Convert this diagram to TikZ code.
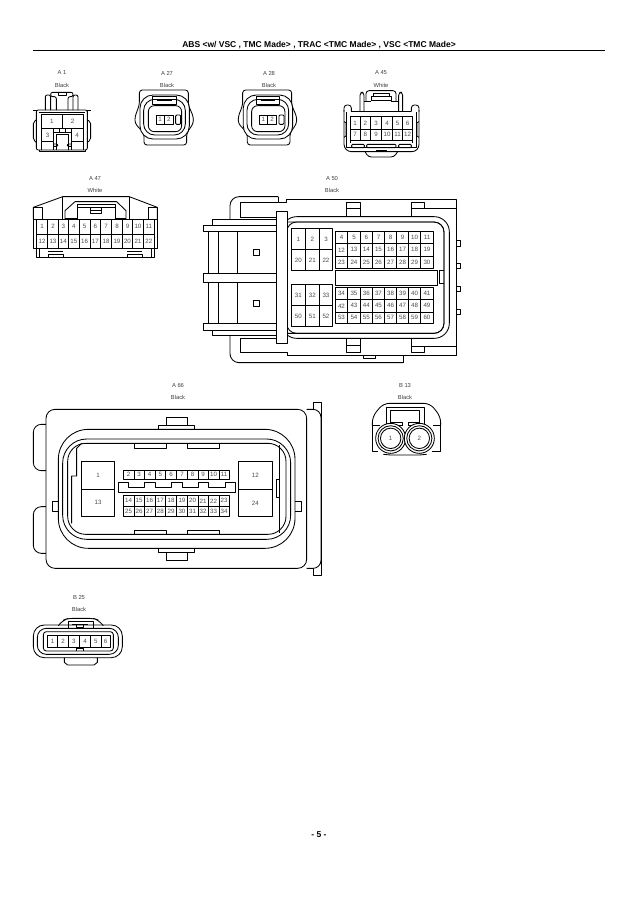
\documentclass[tikz,border=0pt]{standalone}
\usepackage{fontspec}
\setmainfont{Liberation Sans}
\tikzset{
  ln/.style={draw=black,line width=0.85pt,line join=round},
  pinlabel/.style={inner sep=0pt,text=black!70,font=\fontsize{6.2}{7}\selectfont},
  caption/.style={inner sep=0pt,text=black!75,font=\fontsize{5.8}{7}\selectfont},
  zoomed/.style={x=0.33333pt,y=-0.33333pt},
}
\newcommand\cellat[5]{%
  \draw[ln] (#1,#2) rectangle (#3,#4);
  \node[pinlabel] (\conn-#5) at ({(#1+#3)/2},{(#2+#4)/2}) {#5};}
\newcommand\pinrow[4]{%
  \foreach \x [remember=\x as \lx (initially 0), count=\i from 0] in {#4} {%
    \ifnum\i>0 \pgfmathtruncatemacro\lab{#3+\i-1}\cellat{\lx}{#1}{\x}{#2}{\lab}\fi}}
\newcommand\capt[4]{%
  \node[caption] (#1-a) at (#2pt,-#3pt) {#1};
  \node[caption] (#1-b) at (#2pt,-#3pt-12pt) {#4};}
\newcommand\twopin{%
  \draw[ln,rounded corners=3pt] (358,165)--(505,165)--(505,210)--(520,245)--(520,265)--(500,295)--(500,330)--(372,330)--(372,295)--(345,265)--(345,245)--(358,210)--cycle;
  \draw[ln,fill=white,rounded corners=13pt] (360,180) rectangle (508,312);
  \draw[ln,rounded corners=11pt] (371,193) rectangle (496,300);
  \draw[ln,rounded corners=6pt] (385,212) rectangle (485,290);
  \draw[ln,fill=white] (398,208)--(398,183)--(468,183)--(468,208)--cycle;
  \draw[ln] (398,192)--(468,192);
  \draw[ln] (412,197)--(455,197);
  \draw[ln,rounded corners=1pt] (467,240) rectangle (482,268);
  \pinrow{240}{268}{1}{408,433,460}}
\begin{document}
\begin{tikzpicture}[x=1pt,y=-1pt]
\useasboundingbox[fill=white] (0,0) rectangle (638,903);
% header / footer
\node[inner sep=0pt,font=\bfseries\fontsize{8.5}{9}\selectfont] (title) at (319,45) {ABS <w/ VSC , TMC Made> , TRAC <TMC Made> , VSC <TMC Made>};
\coordinate (ruleL) at (33,50.5); \coordinate (ruleR) at (605,50.5);
\draw[line width=1.3pt] (ruleL)--(ruleR);
\node[inner sep=0pt,font=\bfseries\fontsize{8.5}{9}\selectfont] (page) at (319,835) {- 5 -};
% captions
\capt{A 1}{62}{73}{Black}
\capt{A 27}{167}{73}{Black}
\capt{A 28}{269}{73}{Black}
\capt{A 45}{381}{73}{White}
\capt{A 47}{95}{178}{White}
\capt{A 50}{332}{178}{Black}
\capt{A 66}{178}{385}{Black}
\capt{B 13}{405}{385}{Black}
\capt{B 25}{79}{597}{Black}

% ---------- A1
\begin{scope}[zoomed,shift={(20pt,-35pt)}]
\def\conn{a1}
\draw[ln,rounded corners=2pt] (109,225)--(109,185)--(92,185)--(92,172)--(159,172)--(159,185)--(144,185)--(144,225);
\draw[ln] (115,172)--(115,182)--(138,182)--(138,172);
\draw[ln,rounded corners=2pt] (76,225)--(76,180)--(92,180)--(92,225);
\draw[ln,rounded corners=2pt] (159,225)--(159,180)--(174,180)--(174,225);
\draw[ln,rounded corners=2pt] (49,225)--(202,225)--(202,345)--(49,345)--cycle;
\draw[ln,rounded corners=2pt] (49,255)--(40,260)--(40,315)--(49,322);
\draw[ln,rounded corners=2pt] (202,255)--(212,260)--(212,315)--(202,322);
\draw[ln] (56,232)--(195,232);
\draw[ln] (40,225)--(49,225)--(49,240); \draw[ln] (212,225)--(202,225)--(202,240);
\draw[ln] (58,345)--(58,350)--(195,350)--(195,345);
\cellat{64}{238}{127}{280}{1}
\cellat{127}{238}{189}{280}{2}
\cellat{64}{280}{101}{320}{3}
\cellat{154}{280}{189}{320}{4}
\draw[ln] (64,320)--(64,345); \draw[ln] (189,320)--(189,345);
\draw[ln] (101,292)--(154,292);
\draw[ln] (101,320)--(101,345); \draw[ln] (154,320)--(154,345);
\draw[ln] (118,280) rectangle (136,291);
\draw[ln] (109,345)--(109,299)--(146,299)--(146,345);
\draw[ln,rounded corners=1pt] (101,327)--(113,327)--(113,334)--(101,334);
\draw[ln,rounded corners=1pt] (154,327)--(142,327)--(142,334)--(154,334);
\end{scope}
% ---------- A27 / A28
\begin{scope}[zoomed,shift={(20pt,-35pt)}]
\def\conn{a27}\twopin
\end{scope}
\begin{scope}[zoomed,shift={(123.3pt,-35pt)}]
\def\conn{a28}\twopin
\end{scope}
% ---------- A45
\begin{scope}[zoomed,shift={(320pt,-60pt)}]
\def\conn{a45}
\draw[ln,rounded corners=3pt] (120,155)--(120,97)--(132,97)--(132,155);
\draw[ln,rounded corners=3pt] (236,155)--(236,97)--(248,97)--(248,155);
\draw[ln,rounded corners=3pt] (138,125)--(138,92)--(228,92)--(228,125);
\draw[ln] (153,120)--(153,110)--(213,110)--(213,120)--(153,120);
\draw[ln] (160,110)--(160,101)--(207,101)--(207,110);
\draw[ln,rounded corners=3pt] (72,155)--(72,135)--(94,135)--(94,155);
\draw[ln,rounded corners=3pt] (274,155)--(274,135)--(297,135)--(297,155);
\draw[ln] (94,155)--(274,155);
\draw[ln] (132,125)--(153,125); \draw[ln] (213,125)--(236,125);
\draw[ln,rounded corners=3pt] (72,150)--(72,262)--(85,275)--(285,275)--(297,262)--(297,150);
\draw[ln] (72,185)--(78,188)--(78,228)--(72,232);
\draw[ln] (297,185)--(291,188)--(291,228)--(297,232);
\draw[ln] (80,155)--(80,262)--(290,262)--(290,155);
\pinrow{170}{208}{1}{90,120,152,185,218,248,278}
\pinrow{208}{240}{7}{90,120,152,185,218,248,278}
\draw[ln] (90,240)--(90,250); \draw[ln] (278,240)--(278,250);
\draw[ln,rounded corners=1pt] (95,253) rectangle (133,263);
\draw[ln,rounded corners=1pt] (140,253) rectangle (228,263);
\draw[ln,rounded corners=1pt] (236,253) rectangle (274,263);
\draw[ln] (170,275)--(170,270)--(198,270)--(198,275);
\draw[ln,rounded corners=3pt] (135,275)--(145,291)--(222,291)--(233,275);
\end{scope}
% ---------- A47
\begin{scope}[zoomed,shift={(20pt,-170pt)}]
\def\conn{a47}
\draw[ln] (40,148)--(40,112)--(128,80)--(328,80)--(412,112)--(412,148);
\draw[ln] (40,112)--(68,112)--(68,148);
\draw[ln] (385,148)--(385,112)--(412,112);
\draw[ln] (128,80)--(128,148); \draw[ln] (328,80)--(328,148);
\draw[ln] (135,148)--(135,122)--(165,95)--(290,95)--(318,122)--(318,148);
\draw[ln] (172,148)--(172,102)--(285,102)--(285,148);
\draw[ln] (172,113)--(285,113);
\draw[ln] (210,113)--(210,130)--(243,130)--(243,113);
\draw[ln] (210,122)--(243,122);
\draw[ln] (172,145)--(135,145); \draw[ln] (285,145)--(318,145);
\draw[ln] (40,148)--(412,148)--(412,235)--(40,235)--cycle;
\pinrow{148}{192}{1}{50,83,115,145,178,210,242,275,307,338,370,403}
\pinrow{192}{235}{12}{50,83,115,145,178,210,242,275,307,338,370,403}
\draw[ln] (50,235)--(50,262)--(403,262)--(403,235);
\draw[ln] (58,235)--(58,262); \draw[ln] (395,235)--(395,262);
\draw[ln] (85,262)--(85,252)--(130,252)--(130,262);
\draw[ln] (322,262)--(322,252)--(367,252)--(367,262);
\draw[ln] (85,245)--(130,245); \draw[ln] (322,245)--(367,245);
\end{scope}
% ---------- A50
\begin{scope}[zoomed,shift={(190pt,-170pt)}]
\def\conn{a50}
\draw[ln,rounded corners=9pt] (120,148)--(120,80)--(265,80);
\draw[ln] (265,80)--(265,98)--(290,98)--(290,88)--(798,88)--(798,555)--(293,555)--(293,546)--(152,546)--(152,505);
\draw[ln,rounded corners=9pt] (120,497)--(120,578)--(640,578);
\draw[ln] (640,578)--(640,555);
\draw[ln] (150,141)--(150,98)--(265,98);
\draw[ln] (150,141)--(258,141);
\draw[ln] (152,505)--(258,505);
% tabs
\draw[ln] (470,138)--(470,97)--(512,97)--(512,138); \draw[ln] (470,115)--(512,115);
\draw[ln] (665,138)--(665,97)--(703,97)--(703,115); \draw[ln] (665,115)--(798,115);
\draw[ln] (470,508)--(470,547)--(512,547)--(512,508); \draw[ln] (470,527)--(512,527);
\draw[ln] (665,508)--(665,547)--(703,547)--(703,530); \draw[ln] (665,530)--(798,530);
\draw[ln] (519,555)--(519,565)--(557,565)--(557,555);
\draw[ln] (798,212)--(812,212)--(812,228)--(798,228);
\draw[ln] (798,280)--(812,280)--(812,296)--(798,296);
\draw[ln] (798,350)--(812,350)--(812,365)--(798,365);
\draw[ln] (798,418)--(812,418)--(812,433)--(798,433);
% rings
\draw[ln,fill=white,rounded corners=15pt] (275,140) rectangle (778,505);
\draw[ln,rounded corners=10pt] (290,156) rectangle (762,490);
\draw[ln,fill=white] (258,124) rectangle (292,520);
\draw[ln,rounded corners=10pt] (292,156)--(762,156)--(762,490)--(292,490);
% left flanges
\draw[ln] (68,165)--(68,148)--(258,148);
\draw[ln] (40,165) rectangle (258,185);
\draw[ln] (40,310) rectangle (258,337);
\draw[ln] (40,460) rectangle (258,480);
\draw[ln] (68,480)--(68,497)--(258,497);
\draw[ln] (55,185)--(55,310); \draw[ln] (85,185)--(85,310); \draw[ln] (142,185)--(142,310);
\draw[ln] (55,337)--(55,460); \draw[ln] (85,337)--(85,460); \draw[ln] (142,337)--(142,460);
\draw[ln] (190,238) rectangle (208,255);
\draw[ln] (190,390) rectangle (208,408);
% pins
\pinrow{176}{238}{1}{304,346,388,428}
\pinrow{238}{302}{20}{304,346,388,428}
\pinrow{344}{407}{31}{304,346,388,428}
\pinrow{407}{470}{50}{304,346,388,428}
\pinrow{185}{221}{4}{436,473,511,547,584,620,656,692,730}
\pinrow{221}{258}{12}{436,473,511,547,584,620,656,692,730}
\pinrow{258}{295}{23}{436,473,511,547,584,620,656,692,730}
\pinrow{352}{389}{34}{436,473,511,547,584,620,656,692,730}
\pinrow{389}{426}{42}{436,473,511,547,584,620,656,692,730}
\pinrow{426}{461}{53}{436,473,511,547,584,620,656,692,730}
\draw[ln] (436,302) rectangle (743,346);
\draw[ln] (748,302)--(748,340)--(762,340);
\draw[ln] (748,302)--(762,302);
\end{scope}
% ---------- A66
\begin{scope}[zoomed,shift={(20pt,-380pt)}]
\def\conn{a66}
\draw[ln,rounded corners=8pt] (78,133)--(40,133)--(40,272)--(78,272);
\draw[ln,rounded corners=8pt] (78,380)--(40,380)--(40,520)--(78,520);
\draw[ln] (880,88)--(880,67)--(905,67)--(905,587)--(880,587)--(880,565);
\draw[ln,rounded corners=8pt,fill=white] (860,88)--(903,88)--(903,565)--(860,565);
\draw[ln,rounded corners=9pt,fill=white] (78,88) rectangle (860,565);
\draw[ln] (415,148)--(415,135)--(523,135)--(523,148);
\draw[ln] (440,135)--(440,112)--(503,112)--(503,135);
\draw[ln] (415,505)--(415,518)--(523,518)--(523,505);
\draw[ln] (440,518)--(440,542)--(503,542)--(503,518);
\draw[ln] (115,365)--(97,365)--(97,395)--(115,395);
\draw[ln] (825,365)--(845,365)--(845,395)--(825,395);
\draw[ln,rounded corners=30pt] (115,148) rectangle (825,505);
\draw[ln,rounded corners=24pt] (128,177) rectangle (812,478);
\draw[ln,rounded corners=18pt] (143,190) rectangle (798,463);
\draw[ln] (343,190)--(343,205)--(440,205)--(440,190);
\draw[ln] (502,190)--(502,205)--(598,205)--(598,190);
\draw[ln] (343,463)--(343,450)--(440,450)--(440,463);
\draw[ln] (502,463)--(502,450)--(598,450)--(598,463);
\draw[ln] (185,190)--(170,205)--(170,288)--(155,288)--(155,430);
\draw[ln] (778,195)--(778,460);
\draw[ln] (768,298) rectangle (778,353);
\cellat{185}{244}{284}{328}{1}
\cellat{185}{328}{284}{409}{13}
\cellat{655}{244}{757}{328}{12}
\cellat{655}{328}{757}{409}{24}
\pinrow{270}{297}{2}{310,342,373,405,437,470,502,534,565,597,628}
\pinrow{347}{378}{14}{310,342,373,405,437,470,502,534,565,597,628}
\pinrow{378}{408}{25}{310,342,373,405,437,470,502,534,565,597,628}
\draw[ln] (295,337)--(295,307)--(325,307)--(325,323)--(373,323)--(373,307)--(405,307)--(405,323)--(455,323)--(455,307)--(487,307)--(487,323)--(534,323)--(534,307)--(565,307)--(565,323)--(615,323)--(615,307)--(646,307)--(646,337)--cycle;
\end{scope}
% ---------- B13
\begin{scope}[zoomed,shift={(350pt,-375pt)}]
\def\conn{b13}
\draw[ln,rounded corners=6pt] (67,152)--(67,125)--(100,85)--(240,85)--(272,125)--(272,152);
\draw[ln] (67,152)--(90,152); \draw[ln] (250,152)--(272,152);
\draw[ln] (67,152)--(67,228)--(85,228); \draw[ln] (272,152)--(272,228)--(245,228);
\draw[ln] (110,152)--(110,98)--(222,98)--(222,152);
\draw[ln] (122,143)--(122,105)--(208,105)--(208,143);
\draw[ln] (122,143)--(158,143)--(158,152); \draw[ln] (208,143)--(175,143)--(175,152);
\draw[ln] (110,152)--(158,152); \draw[ln] (175,152)--(222,152);
\foreach \cx in {122,208}{
  \draw[ln,fill=white] (\cx,190) circle[radius=15pt];
  \draw[ln] (\cx,190) circle[radius=12.6pt];
  \draw[ln] (\cx,190) circle[radius=10.2pt];
}
\node[pinlabel] (b13-1) at (122,190) {1};
\node[pinlabel] (b13-2) at (208,190) {2};
\draw[ln] (100,238)--(122,240)--(208,240)--(230,238);
\end{scope}
% ---------- B25
\begin{scope}[zoomed,shift={(20pt,-585pt)}]
\def\conn{b25}
\draw[ln,rounded corners=5pt] (115,122)--(130,105)--(145,100)--(220,100)--(235,105)--(250,122);
\draw[ln] (145,130)--(145,108)--(220,108)--(220,130);
\draw[ln] (155,117)--(205,117);
\draw[ln] (170,117)--(170,127)--(190,127)--(190,117);
\draw[ln,rounded corners=11pt] (40,120) rectangle (307,218);
\draw[ln,rounded corners=9pt] (52,130) rectangle (295,208);
\draw[ln,rounded corners=3pt] (70,140) rectangle (280,198);
\draw[ln] (170,198)--(170,191)--(190,191)--(190,198);
\draw[ln] (133,218)--(133,232)--(143,240)--(222,240)--(232,232)--(232,218);
\pinrow{152}{187}{1}{83,113,145,178,212,243,270}
\end{scope}
\end{tikzpicture}
\end{document}
